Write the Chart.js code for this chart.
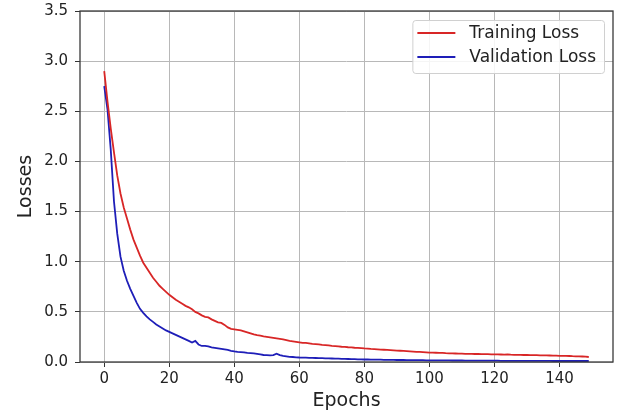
<!DOCTYPE html>
<html>
<head>
<meta charset="utf-8">
<script src="https://cdn.jsdelivr.net/npm/chart.js@4.4.1/dist/chart.umd.min.js"></script>
<style>
  html, body { margin: 0; padding: 0; background: #fff; }
  #lossChart { display: block; }
</style>
</head>
<body>
<canvas id="lossChart" width="620" height="416"></canvas>
<script>
// loss values, one per epoch (0..149)
const trainLoss = [
  2.90, 2.60, 2.33, 2.09, 1.86, 1.68, 1.54, 1.43, 1.32, 1.22,
  1.14, 1.06, 0.99, 0.94, 0.89, 0.84, 0.80, 0.76, 0.73, 0.70,
  0.67, 0.645, 0.62, 0.60, 0.58, 0.56, 0.545, 0.525, 0.50, 0.485,
  0.465, 0.45, 0.445, 0.425, 0.41, 0.395, 0.39, 0.37, 0.345, 0.33,
  0.325, 0.32, 0.315, 0.305, 0.295, 0.285, 0.275, 0.268, 0.262, 0.255,
  0.25, 0.245, 0.24, 0.235, 0.23, 0.225, 0.218, 0.21, 0.205, 0.20,
  0.195, 0.19, 0.19, 0.185, 0.18, 0.178, 0.175, 0.17, 0.168, 0.165,
  0.16, 0.158, 0.155, 0.152, 0.15, 0.147, 0.145, 0.142, 0.14, 0.138,
  0.135, 0.133, 0.13, 0.128, 0.126, 0.124, 0.122, 0.12, 0.118, 0.116,
  0.114, 0.112, 0.11, 0.108, 0.106, 0.104, 0.10, 0.10, 0.098, 0.096,
  0.094, 0.093, 0.092, 0.09, 0.09, 0.088, 0.087, 0.086, 0.085, 0.084,
  0.083, 0.082, 0.082, 0.081, 0.08, 0.08, 0.079, 0.078, 0.078, 0.077,
  0.076, 0.076, 0.075, 0.074, 0.075, 0.073, 0.072, 0.072, 0.071, 0.07,
  0.07, 0.069, 0.068, 0.068, 0.067, 0.066, 0.066, 0.065, 0.064, 0.063,
  0.062, 0.062, 0.061, 0.06, 0.058, 0.057, 0.056, 0.055, 0.053, 0.05
];

const valLoss = [
  2.75, 2.52, 2.12, 1.60, 1.28, 1.05, 0.91, 0.81, 0.73, 0.66,
  0.59, 0.53, 0.49, 0.455, 0.425, 0.40, 0.375, 0.355, 0.335, 0.315,
  0.30, 0.285, 0.27, 0.255, 0.24, 0.225, 0.21, 0.195, 0.21, 0.175,
  0.16, 0.16, 0.155, 0.145, 0.14, 0.135, 0.13, 0.125, 0.12, 0.112,
  0.105, 0.10, 0.098, 0.095, 0.09, 0.088, 0.085, 0.08, 0.075, 0.07,
  0.068, 0.066, 0.068, 0.082, 0.068, 0.06, 0.056, 0.052, 0.05, 0.047,
  0.045, 0.044, 0.043, 0.042, 0.041, 0.04, 0.039, 0.038, 0.037, 0.036,
  0.035, 0.034, 0.033, 0.032, 0.031, 0.03, 0.029, 0.028, 0.027, 0.026,
  0.025, 0.025, 0.024, 0.024, 0.023, 0.023, 0.022, 0.022, 0.021, 0.021,
  0.02, 0.02, 0.02, 0.019, 0.019, 0.019, 0.018, 0.018, 0.018, 0.017,
  0.017, 0.017, 0.017, 0.016, 0.016, 0.016, 0.016, 0.015, 0.015, 0.015,
  0.015, 0.014, 0.014, 0.014, 0.014, 0.014, 0.013, 0.013, 0.013, 0.013,
  0.013, 0.013, 0.012, 0.012, 0.012, 0.012, 0.012, 0.012, 0.012, 0.011,
  0.011, 0.011, 0.011, 0.011, 0.011, 0.011, 0.011, 0.011, 0.010, 0.010,
  0.010, 0.010, 0.010, 0.010, 0.010, 0.010, 0.010, 0.010, 0.010, 0.010
];

const epochs = trainLoss.map((_, i) => i);

const xTicks = [0, 20, 40, 60, 80, 100, 120, 140];
const yTicks = [0.0, 0.5, 1.0, 1.5, 2.0, 2.5, 3.0, 3.5];

const FONT = "'DejaVu Sans', sans-serif";
const RED = '#d82626';
const BLUE = '#1e1eb8';

// matplotlib-ish frame (all four spines)
const framePlugin = {
  id: 'frame',
  afterDraw(chart) {
    const { ctx, chartArea: a } = chart;
    ctx.save();
    ctx.strokeStyle = '#3a3a3a';
    ctx.lineWidth = 1.3;
    ctx.strokeRect(a.left, a.top, a.right - a.left, a.bottom - a.top);
    ctx.restore();
  }
};

// legend box in the upper right corner of the plot
const legendPlugin = {
  id: 'boxLegend',
  afterDraw(chart) {
    const { ctx, chartArea: a } = chart;
    const sets = chart.data.datasets;
    ctx.save();
    ctx.font = '17px ' + FONT;
    const textW = Math.max(...sets.map(d => ctx.measureText(d.label).width));
    const w = 5 + 38 + 14 + textW + 8;
    const h = 53;
    const x = a.right - 9 - w;
    const y = a.top + 9;
    ctx.fillStyle = 'rgba(255,255,255,0.85)';
    ctx.strokeStyle = '#d0d0d0';
    ctx.lineWidth = 1;
    ctx.beginPath();
    ctx.roundRect(x + 0.5, y + 0.5, w, h, 3);
    ctx.fill();
    ctx.stroke();
    sets.forEach((d, i) => {
      const ly = y + 13 + i * 24;
      ctx.strokeStyle = d.borderColor;
      ctx.lineWidth = 2;
      ctx.beginPath();
      ctx.moveTo(x + 5, ly);
      ctx.lineTo(x + 43, ly);
      ctx.stroke();
      ctx.fillStyle = '#222';
      ctx.textBaseline = 'middle';
      ctx.fillText(d.label, x + 57, ly + 1);
    });
    ctx.restore();
  }
};

const ctx = document.getElementById('lossChart').getContext('2d');
const lossChart = new Chart(ctx, {
  type: 'line',
  data: {
    datasets: [
      {
        label: 'Training Loss',
        data: epochs.map(e => ({ x: e, y: trainLoss[e] })),
        borderColor: RED,
        borderWidth: 1.8,
        pointRadius: 0,
        tension: 0,
        fill: false
      },
      {
        label: 'Validation Loss',
        data: epochs.map(e => ({ x: e, y: valLoss[e] })),
        borderColor: BLUE,
        borderWidth: 1.8,
        pointRadius: 0,
        tension: 0,
        fill: false
      }
    ]
  },
  options: {
    responsive: false,
    animation: false,
    layout: { padding: { top: 11, right: 7, left: 0, bottom: 0 } },
    plugins: {
      legend: { display: false },
      tooltip: { enabled: false }
    },
    scales: {
      x: {
        type: 'linear',
        min: -7.45,
        max: 156.45,
        afterBuildTicks: (scale) => { scale.ticks = xTicks.map(v => ({ value: v })); },
        afterFit: (scale) => { scale.height = 54; scale.paddingLeft = 0; scale.paddingRight = 0; },
        grid: { color: '#b8b8b8', lineWidth: 1, tickLength: 5, tickColor: '#333' },
        border: { display: false },
        ticks: {
          color: '#222',
          font: { family: FONT, size: 15 },
          padding: 3,
          maxRotation: 0,
          callback: (v) => String(v)
        },
        title: {
          display: true,
          text: 'Epochs',
          color: '#222',
          font: { family: FONT, size: 19 },
          padding: { top: 0, bottom: 4 }
        }
      },
      y: {
        min: 0,
        max: 3.5,
        afterBuildTicks: (scale) => { scale.ticks = yTicks.map(v => ({ value: v })); },
        afterFit: (scale) => { scale.width = 80; scale.paddingTop = 0; scale.paddingBottom = 0; },
        grid: { color: '#b8b8b8', lineWidth: 1, tickLength: 5, tickColor: '#333' },
        border: { display: false },
        ticks: {
          color: '#222',
          font: { family: FONT, size: 15 },
          padding: 7,
          callback: (v) => Number(v).toFixed(1)
        },
        title: {
          display: true,
          text: 'Losses',
          color: '#222',
          font: { family: FONT, size: 19 },
          padding: { top: 15, bottom: 0 }
        }
      }
    }
  },
  plugins: [framePlugin, legendPlugin]
});
</script>
</body>
</html>
